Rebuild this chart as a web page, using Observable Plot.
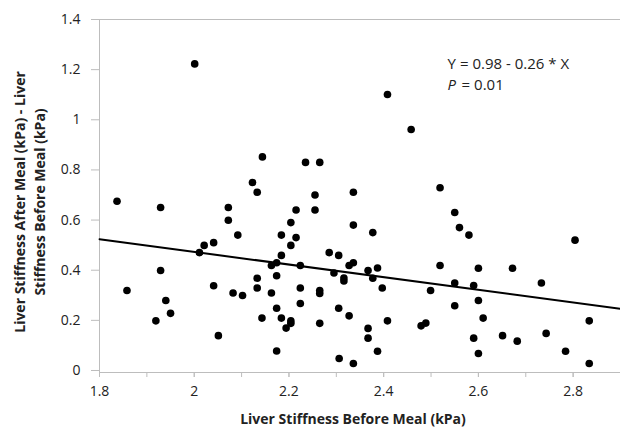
<!DOCTYPE html>
<html>
<head>
<meta charset="utf-8">
<script src="https://cdn.jsdelivr.net/npm/d3@7"></script>
<script src="https://cdn.jsdelivr.net/npm/@observablehq/plot@0.6"></script>
<style>
  html, body { margin: 0; padding: 0; background: #fff; }
</style>
</head>
<body>
<div id="chart"></div>
<script>
// Liver stiffness before meal (kPa)
const beforeMeal = [
  2.001, 2.144, 2.235, 2.265, 2.123, 2.133, 2.255, 2.336, 1.837, 2.408,
  2.458, 2.519, 1.929, 2.072, 2.072, 2.215, 2.255, 2.204, 2.336, 2.092,
  2.184, 2.215, 2.204, 2.021, 2.041, 2.011, 2.184, 2.285, 2.305, 2.163,
  2.174, 2.224, 2.336, 2.327, 1.929, 2.295, 2.174, 2.316, 2.316, 2.133,
  1.858, 2.041, 2.082, 2.102, 2.133, 2.163, 2.224, 2.265, 2.265, 1.940,
  1.950, 1.919, 2.174, 2.224, 2.305, 2.143, 2.184, 2.204, 2.204, 2.194,
  2.265, 2.327, 2.051, 2.174, 2.306, 2.336, 2.377, 2.550, 2.560, 2.580,
  2.804, 2.367, 2.387, 2.377, 2.397, 2.519, 2.600, 2.672, 2.499, 2.550,
  2.590, 2.733, 2.600, 2.550, 2.367, 2.367, 2.387, 2.408, 2.479, 2.489,
  2.610, 2.590, 2.600, 2.651, 2.682, 2.743, 2.784, 2.834, 2.834
];
// Liver stiffness after meal minus before meal (kPa)
const stiffnessChange = [
  1.223, 0.852, 0.830, 0.830, 0.750, 0.711, 0.700, 0.711, 0.675, 1.101,
  0.961, 0.729, 0.650, 0.650, 0.599, 0.640, 0.640, 0.590, 0.580, 0.540,
  0.540, 0.530, 0.499, 0.499, 0.510, 0.470, 0.459, 0.470, 0.459, 0.419,
  0.430, 0.419, 0.430, 0.419, 0.399, 0.389, 0.378, 0.369, 0.357, 0.368,
  0.319, 0.338, 0.309, 0.299, 0.329, 0.309, 0.329, 0.319, 0.307, 0.279,
  0.228, 0.198, 0.248, 0.267, 0.248, 0.209, 0.209, 0.198, 0.188, 0.169,
  0.188, 0.218, 0.139, 0.078, 0.048, 0.028, 0.550, 0.630, 0.570, 0.540,
  0.520, 0.399, 0.409, 0.368, 0.329, 0.419, 0.408, 0.408, 0.319, 0.349,
  0.339, 0.349, 0.279, 0.258, 0.168, 0.129, 0.077, 0.198, 0.178, 0.189,
  0.209, 0.129, 0.068, 0.139, 0.117, 0.148, 0.077, 0.198, 0.028
];

const xDomain = [1.8, 2.9];
const yDomain = [-0.008, 1.4];
const xTickValues = [1.8, 2.0, 2.2, 2.4, 2.6, 2.8];
const xTickLabels = ["1.8", "2", "2.2", "2.4", "2.6", "2.8"];
const xMinorTicks = [1.8, 1.9, 2.0, 2.1, 2.2, 2.3, 2.4, 2.5, 2.6, 2.7, 2.8];
const yTickValues = [0, 0.2, 0.4, 0.6, 0.8, 1.0, 1.2, 1.4];
const yTickLabels = ["0", "0.2", "0.4", "0.6", "0.8", "1", "1.2", "1.4"];

// fitted regression line (as drawn)
const fitIntercept = 0.977;
const fitSlope = -0.252;
const fitXs = [1.8, 2.9];

const equationText = "Y = 0.98 - 0.26 * X";
const pLabel = "P";
const pValueText = "= 0.01";
const annotationX = 2.535;
const annotationY = [1.222, 1.137];

const xTitle = "Liver Stiffness Before Meal (kPa)";
const yTitle = "Liver Stiffness After Meal (kPa) - Liver\nStiffness Before Meal (kPa)";

const points = beforeMeal.map((x, i) => ({x, y: stiffnessChange[i]}));
const fitLine = fitXs.map(x => ({x, y: fitIntercept + fitSlope * x}));

const axisGray = "#bdbdbd";
const textColor = "#222";
const font = "'Segoe UI', 'Open Sans', 'Noto Sans', sans-serif";

const chart = Plot.plot({
  width: 620,
  height: 429,
  marginLeft: 99,
  marginRight: 0,
  marginTop: 19,
  marginBottom: 57,
  style: {fontFamily: font, background: "#fff", color: textColor, overflow: "visible"},
  x: {domain: xDomain, axis: null},
  y: {domain: yDomain, axis: null},
  marks: [
    // frame lines
    Plot.ruleY([yDomain[1]], {stroke: axisGray, strokeWidth: 1}),
    Plot.ruleY([yDomain[0]], {stroke: axisGray, strokeWidth: 1}),
    Plot.ruleX([xDomain[0]], {stroke: axisGray, strokeWidth: 1}),
    // axes
    Plot.axisY({ticks: yTickValues, tickFormat: (d, i) => yTickLabels[i], tickSize: 8, tickPadding: 11,
      stroke: axisGray, fill: textColor, fontSize: 14, label: null}),
    Plot.axisX({ticks: xMinorTicks, tickFormat: null, tickSize: 5, stroke: axisGray, text: null, label: null}),
    Plot.axisX({ticks: xTickValues, tickFormat: (d, i) => xTickLabels[i], tickSize: 5, tickPadding: 9,
      stroke: axisGray, fill: textColor, fontSize: 14, label: null}),
    // data
    Plot.dot(points, {x: "x", y: "y", r: 3.8, fill: "black", stroke: null}),
    Plot.line(fitLine, {x: "x", y: "y", stroke: "black", strokeWidth: 2}),
    // annotation
    Plot.text([equationText], {x: annotationX, y: annotationY[0], text: d => d, textAnchor: "start",
      fontSize: 15, fill: textColor}),
    Plot.text([pLabel], {x: annotationX, y: annotationY[1], text: d => d, textAnchor: "start",
      fontSize: 15, fontStyle: "italic", fill: textColor}),
    Plot.text([pValueText], {x: annotationX, y: annotationY[1], text: d => d, textAnchor: "start",
      dx: 14, fontSize: 15, fill: textColor}),
    // axis titles
    Plot.text([xTitle], {frameAnchor: "bottom", text: d => d, textAnchor: "middle", lineAnchor: "middle",
      dy: 47, dx: -7, fontSize: 14, fontWeight: "bold", fill: textColor}),
    Plot.text([yTitle], {frameAnchor: "left", text: d => d, rotate: -90, textAnchor: "middle", lineAnchor: "middle",
      dx: -71, dy: 6, lineHeight: 1.46, fontSize: 14, fontWeight: "bold", fill: textColor})
  ]
});

document.getElementById("chart").appendChild(chart);
</script>
</body>
</html>
